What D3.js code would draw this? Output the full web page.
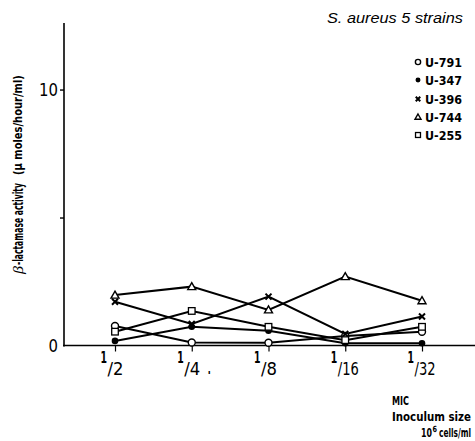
<!DOCTYPE html>
<html><head><meta charset="utf-8">
<script src="https://cdn.jsdelivr.net/npm/d3@7"></script>
<style>
body{margin:0;background:#fff;}
text{font-family:"DejaVu Sans Condensed","Liberation Sans",sans-serif;fill:#000;}
</style></head>
<body><svg id="c" width="475" height="441"></svg>
<script>
const categories = ["1/2","1/4","1/8","1/16","1/32"];
const u791 = [0.76, 0.12, 0.11, 0.37, 0.54];
const u347 = [0.18, 0.73, 0.58, 0.09, 0.09];
const u396 = [1.71, 0.84, 1.91, 0.45, 1.13];
const u744 = [1.97, 2.30, 1.39, 2.69, 1.75];
const u255 = [0.54, 1.35, 0.73, 0.21, 0.73];
const seriesNames = ["U-791","U-347","U-396","U-744","U-255"];
const seriesMarkers = ["openCircle","filledCircle","cross","triangle","square"];
const yTicks = [0,5,10];

const svg = d3.select("#c");
const x = d3.scalePoint().domain(categories).range([115,422]);
const y = d3.scaleLinear().domain([0,12.6]).range([345.5,23]);
const data = [u791,u347,u396,u744,u255];

// text placed at (px,py) (left start, baseline), scaled horizontally to width len
function txt(parent, str, px, py, size, len, opts){
  opts = opts||{};
  const t = parent.append("text").attr("x",0).attr("y",0).attr("font-size",size).text(str);
  if(opts.bold) t.attr("font-weight","bold");
  if(opts.italic) t.attr("font-style","italic");
  if(opts.family) t.style("font-family",opts.family);
  const w = t.node().getComputedTextLength();
  const sx = len ? len/w : 1;
  const rot = opts.rotate ? ` rotate(${opts.rotate})` : "";
  const shift = opts.anchor==="end" ? -len : 0;
  t.attr("transform",`translate(${px},${py})${rot} translate(${shift},0) scale(${sx},1)`);
  return t;
}

// axes
svg.append("line").attr("x1",64).attr("x2",64).attr("y1",23).attr("y2",346.5).attr("stroke","#000").attr("stroke-width",1.6);
svg.append("line").attr("x1",63).attr("x2",475).attr("y1",345.5).attr("y2",345.5).attr("stroke","#000").attr("stroke-width",1.6);

const yAxis = svg.append("g").attr("transform","translate(64,0)")
  .call(d3.axisLeft(y).tickValues(yTicks).tickSize(4).tickFormat(""));
yAxis.select(".domain").remove();
yAxis.selectAll(".tick line").attr("stroke","#000").attr("stroke-width",1.4);
yAxis.selectAll(".tick").filter(d=>d===0).select("line").remove();
yTicks.filter(d=>d!==5).forEach(d=>{
  const s = String(d);
  txt(svg, s, 58, y(d)+6, 17, s.length*9.5, {anchor:"end"});
});

const xAxis = svg.append("g").attr("transform","translate(0,345.5)")
  .call(d3.axisBottom(x).tickSize(6).tickFormat(""));
xAxis.select(".domain").remove();
xAxis.selectAll(".tick line").attr("stroke","#000").attr("stroke-width",1.2);

// x tick labels: superscript numerator / denominator
categories.forEach(c=>{
  const parts = c.split("/");
  const cx = x(c);
  txt(svg, parts[0], cx-14.5, 363, 16, 6.5, {bold:true});
  txt(svg, "/"+parts[1], cx-7.5, 375, 18, parts[1].length===1 ? 16 : 21);
  if(c==="1/4") txt(svg, ".", cx+16, 374, 16, 3, {bold:true});
});

// lines
const line = d3.line().x((d,i)=>x(categories[i])).y(d=>y(d));
data.forEach(s=>{
  svg.append("path").datum(s).attr("d",line).attr("fill","none").attr("stroke","#000").attr("stroke-width",2);
});

function marker(g, type, cx, cy, s){
  s = s||1;
  if(type==="openCircle") g.append("circle").attr("cx",cx).attr("cy",cy).attr("r",3.5*s).attr("fill","#fff").attr("stroke","#000").attr("stroke-width",1.4);
  else if(type==="filledCircle") g.append("circle").attr("cx",cx).attr("cy",cy).attr("r",3.3*s).attr("fill","#000");
  else if(type==="cross"){ const r=3*s;
    g.append("path").attr("d",`M${cx-r},${cy-r}L${cx+r},${cy+r}M${cx-r},${cy+r}L${cx+r},${cy-r}`).attr("stroke","#000").attr("stroke-width",2);}
  else if(type==="triangle"){ const r=4*s;
    g.append("path").attr("d",`M${cx},${cy-r}L${cx+r},${cy+r*0.75}L${cx-r},${cy+r*0.75}Z`).attr("fill","#fff").attr("stroke","#000").attr("stroke-width",1.4);}
  else if(type==="square"){ const r=3.3*s;
    g.append("rect").attr("x",cx-r).attr("y",cy-r).attr("width",2*r).attr("height",2*r).attr("fill","#fff").attr("stroke","#000").attr("stroke-width",1.3);}
}
const mg = svg.append("g");
data.forEach((s,k)=>{
  s.forEach((v,i)=> marker(mg, seriesMarkers[k], x(categories[i]), y(v)));
});

// title
txt(svg, "S. aureus  5 strains", 327, 23, 15, 136, {italic:true, family:'"Liberation Sans",Arial,sans-serif'});

// legend
const ly = [62,80,99,117,135];
seriesNames.forEach((n,k)=>{
  marker(svg, seriesMarkers[k], 418, ly[k], 0.75);
  txt(svg, n, 425, ly[k]+4.5, 13, 37, {bold:true});
});

// y label (rotated)
txt(svg, "β", 23, 274, 15, 8, {italic:true, family:'"Liberation Serif",serif', rotate:-90});
txt(svg, "-lactamase activity", 23, 265, 14.5, 82, {bold:true, rotate:-90});
txt(svg, "(μ moles/hour/ml)", 22, 175, 12, 100, {bold:true, rotate:-90});

// x label
txt(svg, "MIC", 392, 405, 13, 17, {bold:true});
txt(svg, "Inoculum size", 392, 421, 13, 79, {bold:true});
txt(svg, "10", 421, 436.5, 12, 11, {bold:true});
txt(svg, "6", 432.5, 431.5, 8.5, 4.5, {bold:true});
txt(svg, "cells/ml", 439, 436.5, 12, 32, {bold:true});
</script></body></html>
